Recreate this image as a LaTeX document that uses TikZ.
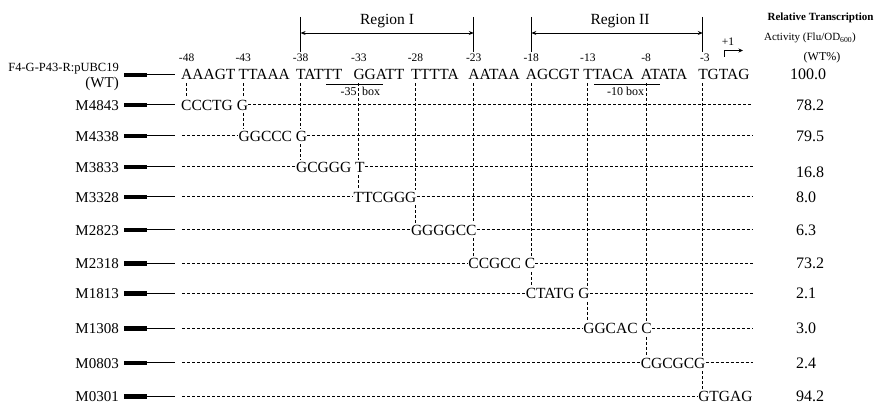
\documentclass[tikz,border=0pt]{standalone}
\usepackage{fontspec}
\setmainfont{Liberation Serif}
\usetikzlibrary{arrows.meta}
\begin{document}
\begin{tikzpicture}[x=1pt,y=-1pt,
  seq/.style={font=\fontsize{15.5}{18}\selectfont, inner sep=0pt, anchor=base west},
  lab/.style={font=\fontsize{15}{18}\selectfont, inner sep=0pt, anchor=base east},
  num/.style={font=\fontsize{11.5}{13}\selectfont, inner sep=0pt, anchor=base},
  small/.style={font=\fontsize{12}{14}\selectfont, inner sep=0pt},
  val/.style={font=\fontsize{16}{19}\selectfont, inner sep=0pt, anchor=base west},
  vd/.style={dash pattern=on 3pt off 2pt, line width=1pt},
  thickbar/.style={line width=4.8pt},
  thinline/.style={line width=1pt},
  barline/.style={line width=1.3pt},
  regarrow/.style={line width=0.9pt, {Stealth[length=5pt,width=4pt]}-{Stealth[length=5pt,width=4pt]}}]
\useasboundingbox (0,0) rectangle (875,404);
% column coordinates
\coordinate (c1) at (186.6,0);
\coordinate (c2) at (243.2,0);
\coordinate (c3) at (300.6,0);
\coordinate (c4) at (358.9,0);
\coordinate (c5) at (415.5,0);
\coordinate (c6) at (473.8,0);
\coordinate (c7) at (531.3,0);
\coordinate (c8) at (587.9,0);
\coordinate (c9) at (646.2,0);
\coordinate (c10) at (702.8,0);
\coordinate (ds) at (182,0);
\coordinate (de) at (753,0);
\coordinate (bs) at (124,0);
\coordinate (bm) at (147,0);
\coordinate (be) at (175,0);
\coordinate (top) at (0,17);
\coordinate (bot) at (0,52);
% regions
\draw[barline] (c3 |- top) -- (c3 |- bot);
\draw[barline] (c6 |- top) -- (c6 |- bot);
\draw[regarrow] (c3 |- 0,33) -- (c6 |- 0,33);
\node[seq, anchor=base] (r1) at (387,25) {Region I};
\draw[barline] (c7 |- top) -- (c7 |- bot);
\draw[barline] (c10 |- top) -- (c10 |- bot);
\draw[regarrow] (c7 |- 0,33) -- (c10 |- 0,33);
\node[seq, anchor=base] (r2) at (620,25) {Region II};
% position numbers
\node[num] (n1) at (c1 |- 0,62) {-48};
\node[num] (n2) at (c2 |- 0,62) {-43};
\node[num] (n3) at (c3 |- 0,62) {-38};
\node[num] (n4) at (c4 |- 0,62) {-33};
\node[num] (n5) at (c5 |- 0,62) {-28};
\node[num] (n6) at (c6 |- 0,62) {-23};
\node[num] (n7) at (c7 |- 0,62) {-18};
\node[num] (n8) at (c8 |- 0,62) {-13};
\node[num] (n9) at (c9 |- 0,62) {-8};
\node[num] (n10) at ([xshift=2pt]c10 |- 0,62) {-3};
% +1
\node[num] (p1) at (728,46) {+1};
\coordinate (tss) at (724,57);
\coordinate (tse) at (743,50.5);
\draw[line width=1pt, -{Stealth[length=4.5pt,width=4pt]}] (tss) |- (tse);
% header
\node[font=\bfseries\fontsize{11}{13}\selectfont, inner sep=0pt, anchor=base] (h1) at (820.5,21) {Relative Transcription};
\node[font=\fontsize{11}{13}\selectfont, inner sep=0pt, anchor=base] (h2) at (810,41) {Activity (Flu/OD\textsubscript{600})};
\node[small, anchor=base] (h3) at (822,61) {(WT\%)};
% WT row
\node[font=\fontsize{12.5}{14}\selectfont, inner sep=0pt, anchor=base east] (L0a) at (119,71) {F4-G-P43-R:pUBC19};
\node[lab] (L0) at (119,88) {(WT)};
\node[seq] (w1) at (181,80) {AAAGT};
\node[seq] (w2) at (238.45,80) {TTAAA};
\node[seq] (w3) at (295.9,80) {TATTT};
\node[seq] (w4) at (353.35,80) {GGATT};
\node[seq] (w5) at (410.8,80) {TTTTA};
\node[seq] (w6) at (468.25,80) {AATAA};
\node[seq] (w7) at (525.7,80) {AGCGT};
\node[seq] (w8) at (583.15,80) {TTACA};
\node[seq] (w9) at (640.6,80) {ATATA};
\node[seq] (w10) at (698.05,80) {TGTAG};
\draw[thickbar] (bs |- w1.west) -- (bm |- w1.west);
\draw[thinline] (bm |- w1.west) -- (be |- w1.west);
% boxes
\draw[line width=0.9pt] (326,84) -- (383,84);
\node[small, anchor=base east] (b35a) at ([xshift=-2pt]c4 |- 0,95) {-35};
\node[small, anchor=base west] (b35b) at ([xshift=3pt]c4 |- 0,95) {box};
\draw[line width=0.9pt] (594,84) -- (660,84);
\node[small, anchor=base east] (b10) at ([xshift=-2pt]c9 |- 0,95) {-10 box};
% mutant rows
\node[lab] (L1) at (119,110) {M4843};
\node[seq] (m1) at (181,110) {CCCTG G};
\node[lab] (L2) at (119,141) {M4338};
\node[seq] (m2) at (238.45,141) {GGCCC G};
\node[lab] (L3) at (119,172) {M3833};
\node[seq] (m3) at (295.9,172) {GCGGG T};
\node[lab] (L4) at (119,202) {M3328};
\node[seq] (m4) at (353.35,202) {TTCGGG};
\node[lab] (L5) at (119,235) {M2823};
\node[seq] (m5) at (410.8,235) {GGGGCC};
\node[lab] (L6) at (119,268.5) {M2318};
\node[seq] (m6) at (468.25,268.5) {CCGCC C};
\node[lab] (L7) at (119,298.5) {M1813};
\node[seq] (m7) at (525.7,298.5) {CTATG G};
\node[lab] (L8) at (119,333.5) {M1308};
\node[seq] (m8) at (583.15,333.5) {GGCAC C};
\node[lab] (L9) at (119,368) {M0803};
\node[seq] (m9) at (640.6,368) {CGCGCG};
\node[lab] (L10) at (119,401.5) {M0301};
\node[seq] (m10) at (698.05,401.5) {GTGAG};
\foreach \k in {1,...,10}{
  \draw[thickbar] (bs |- m\k.west) -- (bm |- m\k.west);
  \draw[thinline] (bm |- m\k.west) -- (be |- m\k.west);
}
% horizontal dashes
\foreach \k in {2,...,10}{ \draw[vd] (ds |- m\k.west) -- (m\k.west); }
\foreach \k in {1,...,9}{ \draw[vd] (m\k.east) -- (de |- m\k.east); }
% vertical dashes
\draw[vd] ([yshift=-3pt]c1 |- w1.south) -- ([yshift=1.5pt]c1 |- m1.north);
\foreach \k [evaluate=\k as \p using int(\k-1)] in {2,...,10}{
  \draw[vd] ([yshift=-3pt]c\k |- w\k.south) -- ([yshift=1.5pt]c\k |- m\p.north);
  \draw[vd] ([yshift=-3pt]c\k |- m\p.south) -- ([yshift=1.5pt]c\k |- m\k.north);
}
% values
\node[val] (v0) at (790,80) {100.0};
\node[val] (v1) at (796,110) {78.2};
\node[val] (v2) at (796,141) {79.5};
\node[val] (v3) at (796,177) {16.8};
\node[val] (v4) at (796,202) {8.0};
\node[val] (v5) at (796,235) {6.3};
\node[val] (v6) at (796,268.5) {73.2};
\node[val] (v7) at (796,298.5) {2.1};
\node[val] (v8) at (796,333.5) {3.0};
\node[val] (v9) at (796,368) {2.4};
\node[val] (v10) at (796,401.5) {94.2};
\end{tikzpicture}
\end{document}
